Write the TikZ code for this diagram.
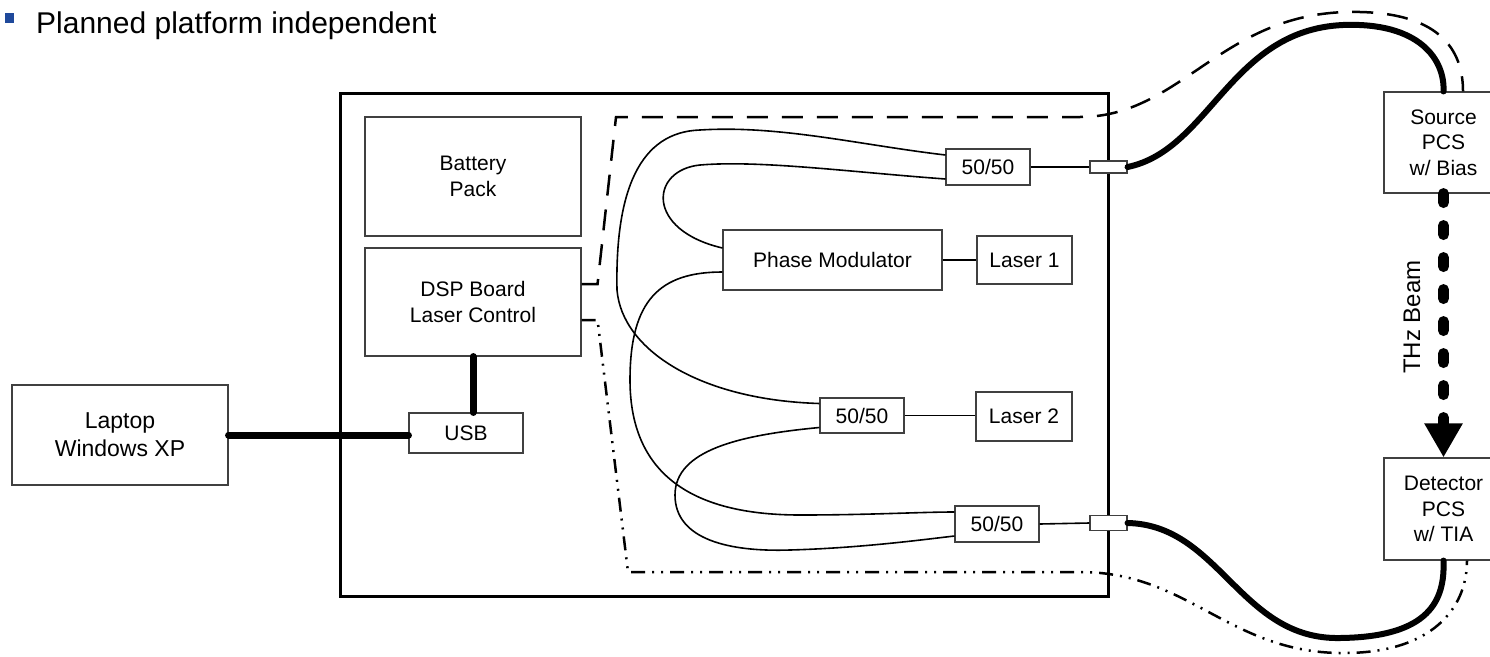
\documentclass[tikz,border=0pt]{standalone}
\usepackage{fontspec}
\setmainfont{Liberation Sans}
\usetikzlibrary{arrows.meta}
\definecolor{bulletblue}{RGB}{31,73,155}

\begin{document}
\begin{tikzpicture}[x=1pt,y=-1pt,
  box/.style={draw=black!75,line width=1.1pt,fill=white,inner sep=0pt,align=center,font=\fontsize{21}{25.5}\selectfont},
  fiber/.style={line width=1.6pt},
  cable/.style={line width=6pt,line cap=round},
  usbline/.style={line width=7pt,line cap=round},
  ctrldash/.style={line width=2.5pt,dash pattern=on 21pt off 14pt},
  ctrldashdot/.style={line width=2.5pt,dash pattern=on 14pt off 7pt on 2pt off 7pt on 2pt off 7pt},
  beam/.style={line width=11pt,line cap=round,dash pattern=on 9pt off 23pt,-{Triangle[length=34pt,width=36pt]}}]

  \useasboundingbox (0,0) rectangle (1490,656);

  % Heading
  \node[fill=bulletblue,minimum size=9.5pt,inner sep=0pt] (bullet) at (9.5,18) {};
  \node[anchor=base west,inner sep=0pt,font=\fontsize{30}{36}\selectfont] (title) at (36,33) {Planned platform independent};

  % Housing and blocks
  \node[draw,line width=3pt,minimum width=768pt,minimum height=503pt] (housing) at (724,344.5) {};
  \node[box,minimum width=216pt,minimum height=100pt,font=\fontsize{23}{28}\selectfont] (laptop) at (120,435) {Laptop\\Windows XP};
  \node[box,minimum width=216pt,minimum height=119pt] (battery) at (473,176.5) {Battery\\Pack};
  \node[box,minimum width=216pt,minimum height=108pt] (dsp) at (473,302) {DSP Board\\Laser Control};
  \node[box,minimum width=114pt,minimum height=40pt] (usb) at (466,433) {USB};
  \node[box,minimum width=219pt,minimum height=60pt] (pm) at (832.5,260) {Phase Modulator};
  \node[box,minimum width=95pt,minimum height=48pt] (laserA) at (1024.5,260) {Laser 1};
  \node[box,minimum width=96pt,minimum height=49pt] (laserB) at (1024,416.5) {Laser 2};
  \node[box,minimum width=84pt,minimum height=36pt] (splitTop) at (988,167) {50/50};
  \node[box,minimum width=84pt,minimum height=35pt] (splitMid) at (862,415.5) {50/50};
  \node[box,minimum width=84pt,minimum height=36pt] (splitBot) at (997,524) {50/50};
  \node[box,minimum width=37pt,minimum height=12pt] (portTop) at (1108.5,167) {};
  \node[box,minimum width=37pt,minimum height=15pt] (portBot) at (1108.5,523) {};
  \node[box,minimum width=119pt,minimum height=101pt] (source) at (1443.5,142.5) {Source\\PCS\\w/ Bias};
  \node[box,minimum width=119pt,minimum height=102pt] (detector) at (1443.5,509) {Detector\\PCS\\w/ TIA};

  % Fibers
  \draw[fiber] ([yshift=12pt]splitTop.west) .. controls (860,145) and (780,125) .. (700,130) .. controls (640,132) and (615,190) .. (617,290) .. controls (622,350) and (700,400) .. ([yshift=12pt]splitMid.west);
  \draw[fiber] ([yshift=-12pt]splitTop.west) .. controls (850,172) and (760,160) .. (700,165) .. controls (650,170) and (645,230) .. ([yshift=12pt]pm.west);
  \draw[fiber] ([yshift=-12pt]pm.west) .. controls (660,272) and (630,300) .. (630,380) .. controls (630,480) and (700,515) .. (800,515) .. controls (870,515) and (920,512) .. ([yshift=12pt]splitBot.west);
  \draw[fiber] ([yshift=-12pt]splitMid.west) .. controls (740,435) and (675,450) .. (675,495) .. controls (675,540) and (730,552) .. (790,550) .. controls (860,548) and (920,540) .. ([yshift=-12pt]splitBot.west);
  \draw[fiber] (pm) -- (laserA);
  \draw[fiber] (splitMid.east) -- (splitMid.east -| laserB.west);
  \draw[fiber] (splitTop.east) -- (portTop.west);
  \draw[fiber] (splitBot.east) -- (portBot.west);

  % Control lines
  \draw[ctrldash] ([yshift=18pt]dsp.east) -- ++(16,0) -- (616,117) -- (1080,117) .. controls (1180,117) and (1220,15) .. (1347,12) .. controls (1440,10) and (1463,50) .. ([xshift=19.5pt]source.north);
  \draw[ctrldashdot] ([yshift=-18pt]dsp.east) -- ++(16,0) -- (628,572) -- (1080,572) .. controls (1190,572) and (1230,655) .. (1347,653) .. controls (1430,652) and (1467,610) .. ([xshift=23.5pt]detector.south);

  % Cables
  \draw[cable] (portTop.east) .. controls (1210,150) and (1230,30) .. (1343,25) .. controls (1420,22) and (1445,60) .. (source.north);
  \draw[cable] (portBot.east) .. controls (1220,525) and (1240,640) .. (1340,638) .. controls (1430,637) and (1445,600) .. (detector.south);
  \draw[usbline] (laptop.east) -- (laptop.east -| usb.west);
  \draw[usbline] (dsp.south) -- (dsp.south |- usb.north);

  % Beam
  \draw[beam] (source.south) -- (detector.north);
  \node[rotate=90,font=\fontsize{24}{28}\selectfont] (beamlabel) at (1412,317) {THz Beam};

\end{tikzpicture}
\end{document}
